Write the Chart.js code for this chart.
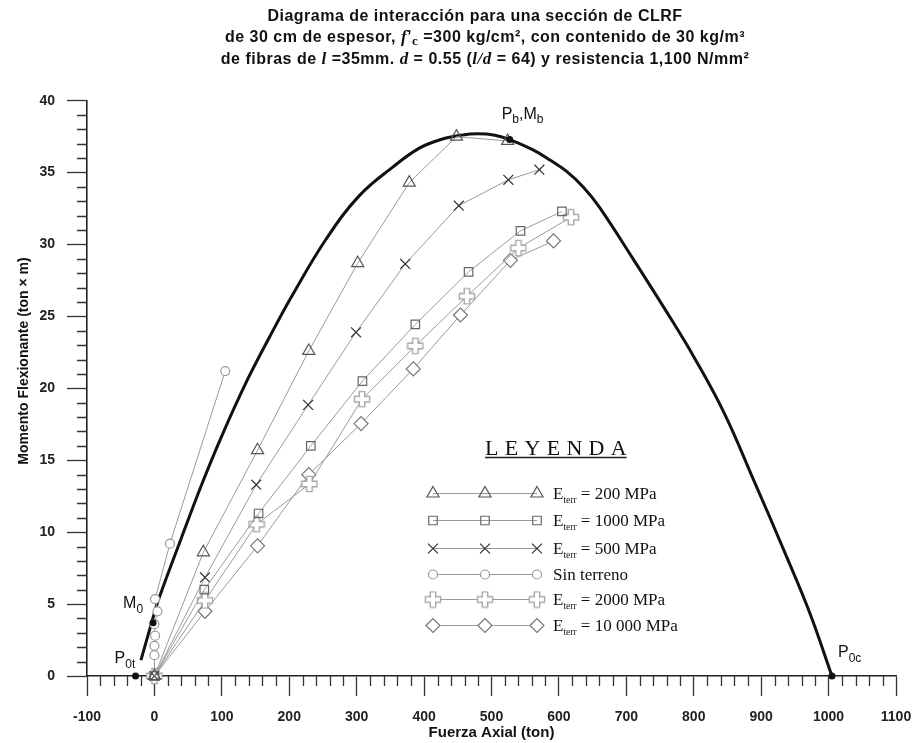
<!DOCTYPE html>
<html>
<head>
<meta charset="utf-8">
<script src="https://cdn.jsdelivr.net/npm/chart.js@4.4.1/dist/chart.umd.min.js"></script>
<style>
  html, body { margin: 0; padding: 0; background: #fff; }
  #wrap { width: 916px; height: 743px; position: relative; }
</style>
</head>
<body>
<div id="wrap"><canvas id="chart" width="916" height="743"></canvas></div>
<script>
// Interaction envelope: axial force P (ton) vs bending moment M (ton·m)
const curveP = [-20, -3, 6, 40, 70, 100, 138, 170, 205, 255, 304, 354, 393, 425, 455, 480, 505, 527, 561, 586, 611, 636, 660, 710, 760, 800, 845, 890, 935, 972, 1005];
const curveM = [1.1, 3.9, 5.3, 9.6, 13.3, 16.7, 20.6, 23.5, 26.5, 30.4, 33.4, 35.4, 36.7, 37.3, 37.6, 37.7, 37.6, 37.3, 36.6, 35.9, 35.1, 34.0, 32.6, 29.0, 25.3, 22.2, 18.3, 13.5, 8.6, 4.4, 0];

// Characteristic points: P0t, M0, Pb/Mb, P0c
const keyP = [-28, -2, 527, 1005];
const keyM = [0, 3.7, 37.3, 0];

// Soil stiffness series (P in ton, M in ton·m)
const triP = [0, 72.6, 153, 229, 301.5, 378, 448, 524];
const triM = [0, 8.6, 15.7, 22.6, 28.7, 34.3, 37.5, 37.2];
const sqP  = [0, 74, 154.5, 232, 308.5, 387, 466, 543, 604.5];
const sqM  = [0, 6.0, 11.3, 16.0, 20.5, 24.45, 28.1, 30.95, 32.3];
const xP   = [0, 75, 151, 228, 299, 372, 451.5, 525, 571];
const xM   = [0, 6.85, 13.3, 18.85, 23.9, 28.65, 32.7, 34.5, 35.2];
const ciP  = [0, 0, 0, 1, 0, 4.5, 1, 23, 105];
const ciM  = [0, 1.45, 2.1, 2.8, 3.6, 4.5, 5.35, 9.2, 21.2];
const plP  = [0, 75, 151.5, 230, 308, 387, 463.5, 540, 618];
const plM  = [0, 5.25, 10.55, 13.35, 19.25, 22.95, 26.4, 29.75, 31.9];
const diP  = [0, 75, 153, 229, 306.5, 384, 454, 528, 592];
const diM  = [0, 4.5, 9.05, 14.0, 17.55, 21.35, 25.1, 28.9, 30.25];

// Legend entries (same order as the datasets)
const legendMain = ['E', 'E', 'E', 'Sin terreno', 'E', 'E'];
const legendSub  = ['terr', 'terr', 'terr', '', 'terr', 'terr'];
const legendRest = [' = 200 MPa', ' = 1000 MPa', ' = 500 MPa', '', ' = 2000 MPa', ' = 10 000 MPa'];

// Axis ticks
const xTickMin = -100, xTickMax = 1100, xMajor = 100, xMinor = 20;
const yTickMin = 0, yTickMax = 40, yMajor = 5, yMinor = 1;

const SANS = '"Liberation Sans", Arial, Helvetica, sans-serif';
const SERIF = '"Liberation Serif", "Times New Roman", serif';

const toXY = (xs, ys) => xs.map((x, i) => ({ x: x, y: ys[i] }));

// Outlined plus marker
function makePlus(color) {
  const c = document.createElement('canvas');
  c.width = 18; c.height = 18;
  const g = c.getContext('2d');
  const m = 9, a = 2.7, L = 7.6;
  g.beginPath();
  g.moveTo(m - a, m - L); g.lineTo(m + a, m - L); g.lineTo(m + a, m - a);
  g.lineTo(m + L, m - a); g.lineTo(m + L, m + a); g.lineTo(m + a, m + a);
  g.lineTo(m + a, m + L); g.lineTo(m - a, m + L); g.lineTo(m - a, m + a);
  g.lineTo(m - L, m + a); g.lineTo(m - L, m - a); g.lineTo(m - a, m - a);
  g.closePath();
  g.fillStyle = '#fff'; g.fill();
  g.strokeStyle = color; g.lineWidth = 1.4; g.stroke();
  return c;
}
const plusImg = makePlus('#a8a8a8');

const LINE = '#9a9a9a';
const seriesStyles = [
  { style: 'triangle', radius: 7,   color: '#555', fill: 'rgba(255,255,255,0)', data: toXY(triP, triM) },
  { style: 'rect',     radius: 6,   color: '#666', fill: 'rgba(255,255,255,0)', data: toXY(sqP, sqM) },
  { style: 'crossRot', radius: 7,   color: '#333', fill: 'rgba(255,255,255,0)', data: toXY(xP, xM) },
  { style: 'circle',   radius: 4.5, color: '#999', fill: '#fff',                data: toXY(ciP, ciM) },
  { style: plusImg,    radius: 7,   color: '#a8a8a8', fill: '#fff',             data: toXY(plP, plM) },
  { style: 'rectRot',  radius: 7,   color: '#777', fill: '#fff',                data: toXY(diP, diM) }
];

const datasets = seriesStyles.map((s, i) => ({
  label: (legendMain[i] + legendSub[i] + legendRest[i]),
  data: s.data,
  showLine: true,
  borderColor: LINE,
  borderWidth: 1,
  pointStyle: s.style,
  pointRadius: s.radius,
  pointBorderColor: s.color,
  pointBackgroundColor: s.fill,
  pointBorderWidth: 1.2,
  clip: false,
  order: 1
}));

datasets.push({
  label: 'envelope',
  data: toXY(curveP, curveM),
  showLine: true,
  borderColor: '#111',
  borderWidth: 3,
  pointRadius: 0,
  tension: 0.4,
  clip: false,
  order: 5
});
datasets.push({
  label: 'key points',
  data: toXY(keyP, keyM),
  showLine: false,
  pointRadius: 3.5,
  pointBackgroundColor: '#111',
  pointBorderColor: '#111',
  pointBorderWidth: 0,
  clip: false,
  order: 0
});

// Draws a run of text segments with their own fonts and baseline shifts
function drawRich(ctx, segs, x, y, align, spacing) {
  ctx.letterSpacing = (spacing || 0) + 'px';
  let total = 0;
  segs.forEach(s => { ctx.font = s.font; total += ctx.measureText(s.t).width; });
  let cx = align === 'center' ? x - total / 2 : x;
  segs.forEach(s => {
    ctx.font = s.font;
    ctx.fillText(s.t, cx, y + (s.dy || 0));
    cx += ctx.measureText(s.t).width;
  });
  ctx.letterSpacing = '0px';
}

const annotations = {
  id: 'annotations',
  afterDraw(chart) {
    const ctx = chart.ctx;
    const xs = chart.scales.x, ys = chart.scales.y;
    const area = chart.chartArea;
    ctx.save();

    // minor ticks
    ctx.strokeStyle = '#333';
    ctx.lineWidth = 1.3;
    ctx.beginPath();
    for (let v = xTickMin; v <= xTickMax; v += xMinor) {
      if (v % xMajor === 0) continue;
      const px = Math.round(xs.getPixelForValue(v)) + 0.5;
      ctx.moveTo(px, area.bottom);
      ctx.lineTo(px, area.bottom + 10);
    }
    for (let v = yTickMin; v <= yTickMax; v += yMinor) {
      if (v % yMajor === 0) continue;
      const py = Math.round(ys.getPixelForValue(v)) + 0.5;
      ctx.moveTo(area.left - 10, py);
      ctx.lineTo(area.left, py);
    }
    ctx.stroke();

    // title
    ctx.fillStyle = '#111';
    ctx.textBaseline = 'alphabetic';
    const B = 'bold 16px ' + SANS;
    const I = 'italic bold 17px ' + SERIF;
    drawRich(ctx, [{ t: 'Diagrama de interacción para una sección de CLRF', font: B }], 475, 21, 'center', 0.5);
    drawRich(ctx, [
      { t: 'de 30 cm de espesor, ', font: B },
      { t: 'f', font: I },
      { t: '\u2019', font: B },
      { t: 'c', font: 'bold 13px ' + SERIF, dy: 3 },
      { t: ' =300 kg/cm², con contenido de 30 kg/m³', font: B }
    ], 485, 42, 'center', 0.5);
    drawRich(ctx, [
      { t: 'de fibras de ', font: B },
      { t: 'l', font: I },
      { t: ' =35mm. ', font: B },
      { t: 'd', font: I },
      { t: ' = 0.55 (', font: B },
      { t: 'l/d', font: I },
      { t: ' = 64) y resistencia 1,100 N/mm²', font: B }
    ], 485, 63.5, 'center', 0.5);

    // y axis title
    ctx.save();
    ctx.translate(24, 361);
    ctx.rotate(-Math.PI / 2);
    ctx.font = 'bold 14px ' + SANS;
    ctx.textAlign = 'center';
    ctx.textBaseline = 'middle';
    ctx.fillText('Momento Flexionante (ton \u00d7 m)', 0, 0);
    ctx.restore();

    // characteristic point labels
    ctx.fillStyle = '#111';
    const L = '16px ' + SANS, S = '12px ' + SANS;
    const kp = i => ({ x: xs.getPixelForValue(keyP[i]), y: ys.getPixelForValue(keyM[i]) });
    let p = kp(0);
    drawRich(ctx, [{ t: 'P', font: L }, { t: '0t', font: S, dy: 5 }], p.x - 21, p.y - 13, 'left');
    p = kp(1);
    drawRich(ctx, [{ t: 'M', font: L }, { t: '0', font: S, dy: 5 }], p.x - 30, p.y - 15, 'left');
    p = kp(2);
    drawRich(ctx, [{ t: 'P', font: L }, { t: 'b', font: S, dy: 4 }, { t: ',M', font: L }, { t: 'b', font: S, dy: 4 }], p.x - 8, p.y - 21, 'left');
    p = kp(3);
    drawRich(ctx, [{ t: 'P', font: L }, { t: '0c', font: S, dy: 5 }], p.x + 6, p.y - 19, 'left');

    // legend heading
    const head = 'LEYENDA';
    ctx.font = '22px ' + SERIF;
    let hx = 485;
    const spacing = 6.3;
    for (const ch of head) {
      ctx.fillText(ch, hx, 455);
      hx += ctx.measureText(ch).width + spacing;
    }
    hx -= spacing;
    ctx.strokeStyle = '#222';
    ctx.lineWidth = 1.5;
    ctx.beginPath();
    ctx.moveTo(485, 457.5); ctx.lineTo(hx, 457.5);
    ctx.stroke();

    // legend rows
    const rowY = [493, 520, 548, 574, 599, 625];
    seriesStyles.forEach((s, i) => {
      const y = rowY[i];
      ctx.strokeStyle = LINE; ctx.lineWidth = 1;
      ctx.beginPath(); ctx.moveTo(433, y + 0.5); ctx.lineTo(537, y + 0.5); ctx.stroke();
      [433, 485, 537].forEach(mx => {
        ctx.strokeStyle = s.color; ctx.fillStyle = s.fill; ctx.lineWidth = 1.2;
        Chart.helpers.drawPoint(ctx, { pointStyle: s.style, radius: s.radius, rotation: 0, borderWidth: 1.2 }, mx, y + 0.5);
      });
      ctx.fillStyle = '#111';
      const segs = [{ t: legendMain[i], font: '17px ' + SERIF }];
      if (legendSub[i]) segs.push({ t: legendSub[i], font: '9.5px ' + SERIF, dy: 4 });
      if (legendRest[i]) segs.push({ t: legendRest[i], font: '17px ' + SERIF });
      drawRich(ctx, segs, 553, y + 6, 'left');
    });

    ctx.restore();
  }
};

const tickFont = { family: SANS, size: 14, weight: 'bold' };

new Chart(document.getElementById('chart'), {
  type: 'scatter',
  data: { datasets: datasets },
  options: {
    responsive: false,
    animation: false,
    devicePixelRatio: 1,
    layout: { padding: { top: 100.7, right: 20, bottom: 0, left: 0 } },
    plugins: { legend: { display: false }, title: { display: false }, tooltip: { enabled: false } },
    scales: {
      x: {
        type: 'linear', min: xTickMin, max: xTickMax,
        afterFit(scale) { scale.height = 67; scale.paddingLeft = 0; scale.paddingRight = 0; },
        ticks: { stepSize: xMajor, font: tickFont, color: '#222', padding: 13, maxRotation: 0, callback: v => String(v) },
        grid: { drawOnChartArea: false, drawTicks: true, tickLength: 20, tickColor: '#333', tickWidth: 1.3 },
        border: { display: true, color: '#222', width: 1.6 },
        title: { display: true, text: 'Fuerza Axial (ton)', font: { family: SANS, size: 15, weight: 'bold' }, color: '#111', padding: { top: 0, bottom: 1 } }
      },
      y: {
        type: 'linear', min: yTickMin, max: yTickMax,
        afterFit(scale) { scale.width = 87; scale.paddingTop = 0; scale.paddingBottom = 0; },
        ticks: { stepSize: yMajor, font: tickFont, color: '#222', padding: 12, callback: v => String(v) },
        grid: { drawOnChartArea: false, drawTicks: true, tickLength: 20, tickColor: '#333', tickWidth: 1.3 },
        border: { display: true, color: '#222', width: 1.6 }
      }
    }
  },
  plugins: [annotations]
});
</script>
</body>
</html>
